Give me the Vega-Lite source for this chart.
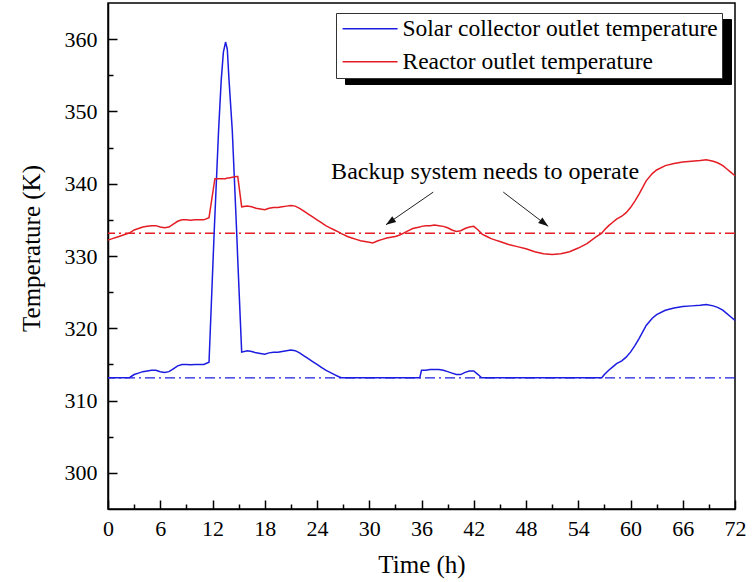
{
  "$schema": "https://vega.github.io/schema/vega-lite/v6.json",
  "width": 627,
  "height": 506,
  "autosize": {"type": "none"},
  "padding": {"left": 108, "top": 3, "right": 18, "bottom": 73},
  "background": "#ffffff",
  "config": {
    "view": {"stroke": "#000000", "strokeWidth": 1.5},
    "font": "Liberation Serif",
    "axis": {"grid": false, "domainColor": "#000000", "domainWidth": 1.5, "tickColor": "#000000", "tickWidth": 1.5, "labelFont": "Liberation Serif", "labelColor": "#000000", "labelFontSize": 22, "titleFont": "Liberation Serif", "titleFontSize": 25, "titleFontWeight": "normal", "titleColor": "#000000"}
  },
  "datasets": {
    "curves": [
      {"t": 0, "solar": 313.15, "reactor": 332.2},
      {"t": 0.5, "solar": 313.15, "reactor": 332.4},
      {"t": 1, "solar": 313.15, "reactor": 332.6},
      {"t": 1.5, "solar": 313.15, "reactor": 332.8},
      {"t": 2, "solar": 313.15, "reactor": 333.0},
      {"t": 2.5, "solar": 313.2, "reactor": 333.2},
      {"t": 3, "solar": 313.6, "reactor": 333.6},
      {"t": 3.5, "solar": 313.8, "reactor": 333.8},
      {"t": 4, "solar": 314.0, "reactor": 334.0},
      {"t": 4.5, "solar": 314.1, "reactor": 334.1},
      {"t": 5, "solar": 314.2, "reactor": 334.2},
      {"t": 5.5, "solar": 314.2, "reactor": 334.2},
      {"t": 6, "solar": 314.0, "reactor": 334.0},
      {"t": 6.5, "solar": 313.9, "reactor": 333.9},
      {"t": 7, "solar": 314.0, "reactor": 334.0},
      {"t": 7.5, "solar": 314.4, "reactor": 334.4},
      {"t": 8, "solar": 314.8, "reactor": 334.8},
      {"t": 8.5, "solar": 315.0, "reactor": 335.0},
      {"t": 9, "solar": 315.0, "reactor": 335.0},
      {"t": 9.5, "solar": 314.95, "reactor": 334.95},
      {"t": 10, "solar": 315.0, "reactor": 335.0},
      {"t": 10.5, "solar": 315.0, "reactor": 335.0},
      {"t": 11, "solar": 315.0, "reactor": 335.0},
      {"t": 11.6, "solar": 315.3, "reactor": 335.3},
      {"t": 12.2, "solar": 333.5, "reactor": 340.1},
      {"t": 12.28, "solar": 335.7, "reactor": 340.7},
      {"t": 12.7, "solar": 347.4, "reactor": 340.7},
      {"t": 13.0, "solar": 354.3, "reactor": 340.7},
      {"t": 13.25, "solar": 358.2, "reactor": 340.7},
      {"t": 13.5, "solar": 359.6, "reactor": 340.7},
      {"t": 13.7, "solar": 358.6, "reactor": 340.8},
      {"t": 13.9, "solar": 354.3, "reactor": 340.8},
      {"t": 14.27, "solar": 347.4, "reactor": 340.9},
      {"t": 14.77, "solar": 333.5, "reactor": 341.0},
      {"t": 14.9, "solar": 329.5, "reactor": 341.0},
      {"t": 15.35, "solar": 316.7, "reactor": 336.8},
      {"t": 16, "solar": 316.9, "reactor": 336.9},
      {"t": 16.5, "solar": 316.8, "reactor": 336.8},
      {"t": 17, "solar": 316.6, "reactor": 336.6},
      {"t": 17.5, "solar": 316.5, "reactor": 336.5},
      {"t": 18, "solar": 316.4, "reactor": 336.4},
      {"t": 18.5, "solar": 316.6, "reactor": 336.6},
      {"t": 19, "solar": 316.7, "reactor": 336.7},
      {"t": 19.5, "solar": 316.7, "reactor": 336.7},
      {"t": 20, "solar": 316.8, "reactor": 336.8},
      {"t": 20.5, "solar": 316.9, "reactor": 336.9},
      {"t": 21, "solar": 317.0, "reactor": 337.0},
      {"t": 21.5, "solar": 316.9, "reactor": 336.9},
      {"t": 22, "solar": 316.6, "reactor": 336.6},
      {"t": 22.5, "solar": 316.2, "reactor": 336.2},
      {"t": 23, "solar": 315.8, "reactor": 335.8},
      {"t": 23.5, "solar": 315.4, "reactor": 335.4},
      {"t": 24, "solar": 315.0, "reactor": 335.0},
      {"t": 24.5, "solar": 314.6, "reactor": 334.6},
      {"t": 25, "solar": 314.2, "reactor": 334.2},
      {"t": 25.5, "solar": 313.9, "reactor": 333.9},
      {"t": 26, "solar": 313.6, "reactor": 333.6},
      {"t": 26.5, "solar": 313.3, "reactor": 333.3},
      {"t": 26.8, "solar": 313.15, "reactor": 333.1},
      {"t": 27, "solar": 313.15, "reactor": 333.0},
      {"t": 27.5, "solar": 313.15, "reactor": 332.7},
      {"t": 28, "solar": 313.15, "reactor": 332.5},
      {"t": 28.5, "solar": 313.15, "reactor": 332.3},
      {"t": 29, "solar": 313.15, "reactor": 332.1},
      {"t": 29.5, "solar": 313.15, "reactor": 332.0},
      {"t": 30, "solar": 313.15, "reactor": 331.9},
      {"t": 30.4, "solar": 313.15, "reactor": 331.8},
      {"t": 31, "solar": 313.15, "reactor": 332.1},
      {"t": 31.5, "solar": 313.15, "reactor": 332.3},
      {"t": 32, "solar": 313.15, "reactor": 332.5},
      {"t": 32.5, "solar": 313.15, "reactor": 332.6},
      {"t": 33, "solar": 313.15, "reactor": 332.7},
      {"t": 33.5, "solar": 313.15, "reactor": 332.9},
      {"t": 34, "solar": 313.15, "reactor": 333.2},
      {"t": 34.5, "solar": 313.15, "reactor": 333.5},
      {"t": 35, "solar": 313.15, "reactor": 333.8},
      {"t": 35.8, "solar": 313.15, "reactor": 334.0},
      {"t": 36, "solar": 314.2, "reactor": 334.1},
      {"t": 36.5, "solar": 314.2, "reactor": 334.2},
      {"t": 37, "solar": 314.3, "reactor": 334.2},
      {"t": 37.5, "solar": 314.3, "reactor": 334.3},
      {"t": 38, "solar": 314.3, "reactor": 334.2},
      {"t": 38.5, "solar": 314.2, "reactor": 334.1},
      {"t": 39, "solar": 314.0, "reactor": 333.9},
      {"t": 39.5, "solar": 313.8, "reactor": 333.6},
      {"t": 40, "solar": 313.6, "reactor": 333.4},
      {"t": 40.5, "solar": 313.6, "reactor": 333.5},
      {"t": 41, "solar": 313.9, "reactor": 333.8},
      {"t": 41.5, "solar": 314.1, "reactor": 334.0},
      {"t": 42, "solar": 314.1, "reactor": 334.1},
      {"t": 42.5, "solar": 313.6, "reactor": 333.6},
      {"t": 42.9, "solar": 313.15, "reactor": 333.1},
      {"t": 43, "solar": 313.15, "reactor": 333.0},
      {"t": 43.5, "solar": 313.15, "reactor": 332.7},
      {"t": 44, "solar": 313.15, "reactor": 332.4},
      {"t": 44.5, "solar": 313.15, "reactor": 332.2},
      {"t": 45, "solar": 313.15, "reactor": 332.0},
      {"t": 46, "solar": 313.15, "reactor": 331.6},
      {"t": 47, "solar": 313.15, "reactor": 331.3},
      {"t": 48, "solar": 313.15, "reactor": 331.0},
      {"t": 49, "solar": 313.15, "reactor": 330.6},
      {"t": 50, "solar": 313.15, "reactor": 330.3},
      {"t": 51, "solar": 313.15, "reactor": 330.2},
      {"t": 52, "solar": 313.15, "reactor": 330.3},
      {"t": 53, "solar": 313.15, "reactor": 330.6},
      {"t": 54, "solar": 313.15, "reactor": 331.1},
      {"t": 55, "solar": 313.15, "reactor": 331.7},
      {"t": 56, "solar": 313.15, "reactor": 332.6},
      {"t": 56.7, "solar": 313.15, "reactor": 333.15},
      {"t": 57, "solar": 313.6, "reactor": 333.6},
      {"t": 57.5, "solar": 314.2, "reactor": 334.2},
      {"t": 58, "solar": 314.7, "reactor": 334.7},
      {"t": 58.4, "solar": 315.1, "reactor": 335.1},
      {"t": 59, "solar": 315.5, "reactor": 335.5},
      {"t": 59.5, "solar": 316.0, "reactor": 336.0},
      {"t": 60, "solar": 316.7, "reactor": 336.7},
      {"t": 60.5, "solar": 317.6, "reactor": 337.6},
      {"t": 61, "solar": 318.6, "reactor": 338.6},
      {"t": 61.8, "solar": 320.4, "reactor": 340.4},
      {"t": 62.5, "solar": 321.4, "reactor": 341.4},
      {"t": 63, "solar": 321.9, "reactor": 341.9},
      {"t": 64, "solar": 322.5, "reactor": 342.5},
      {"t": 65, "solar": 322.8, "reactor": 342.8},
      {"t": 66, "solar": 323.0, "reactor": 343.0},
      {"t": 67, "solar": 323.1, "reactor": 343.1},
      {"t": 68, "solar": 323.2, "reactor": 343.2},
      {"t": 68.7, "solar": 323.3, "reactor": 343.3},
      {"t": 69.5, "solar": 323.1, "reactor": 343.1},
      {"t": 70, "solar": 322.9, "reactor": 342.9},
      {"t": 70.6, "solar": 322.5, "reactor": 342.5},
      {"t": 71, "solar": 322.1, "reactor": 342.1},
      {"t": 71.5, "solar": 321.6, "reactor": 341.6},
      {"t": 72, "solar": 321.1, "reactor": 341.1}
    ]
  },
  "layer": [
    {
      "data": {"name": "curves"},
      "transform": [{"fold": ["solar", "reactor"], "as": ["series", "temp"]}],
      "mark": {"type": "line", "opacity": 0},
      "encoding": {
        "x": {"field": "t", "type": "quantitative", "scale": {"domain": [0, 72], "nice": false, "zero": false}, "axis": null},
        "y": {"field": "temp", "type": "quantitative", "scale": {"domain": [295, 365], "nice": false, "zero": false}, "axis": null},
        "color": {
          "field": "series", "type": "nominal",
          "scale": {"range": ["#000000", "#000000"]},
          "legend": {"title": null, "orient": "none", "legendX": 237, "legendY": 16, "symbolType": "M-1,0L39.6,0", "symbolSize": 336, "symbolStrokeWidth": 1.5, "labelFont": "Liberation Serif", "labelFontSize": 23.5, "labelColor": "#000000", "labelOffset": 39, "rowPadding": 8, "padding": 4, "strokeColor": "#000000", "fillColor": "#000000", "labelLimit": 500,
            "labelExpr": "''"}
        }
      }
    },
    {
      "data": {"values": [{}]},
      "mark": {"type": "rule", "color": "#e41d24", "strokeWidth": 1.3, "strokeDash": [10, 4, 2, 4]},
      "encoding": {
        "y": {"datum": 333.15, "type": "quantitative", "axis": {"orient": "left", "values": [305, 315, 325, 335, 345, 355], "tickSize": -5, "labels": false, "domain": false, "title": null}}
      }
    },
    {
      "data": {"values": [{}]},
      "mark": {"type": "rule", "color": "#1c1ce0", "strokeWidth": 1.3, "strokeDash": [10, 4, 2, 4]},
      "encoding": {
        "y": {"datum": 313.15, "type": "quantitative", "axis": null}
      }
    },
    {
      "data": {"name": "curves"},
      "transform": [{"fold": ["solar", "reactor"], "as": ["series", "temp"]}],
      "mark": {"type": "line", "strokeWidth": 1.5},
      "encoding": {
        "x": {"field": "t", "type": "quantitative", "scale": {"domain": [0, 72], "nice": false, "zero": false},
          "axis": {"orient": "bottom", "title": "Time (h)", "values": [0, 6, 12, 18, 24, 30, 36, 42, 48, 54, 60, 66, 72], "tickSize": -9, "labelPadding": 18, "titlePadding": 13, "labelFlush": false, "labelOverlap": false}},
        "y": {"field": "temp", "type": "quantitative", "scale": {"domain": [295, 365], "nice": false, "zero": false},
          "axis": {"orient": "left", "title": "Temperature (K)", "values": [300, 310, 320, 330, 340, 350, 360], "tickSize": -9, "labelPadding": 20, "titlePadding": 20, "titleY": 245, "labelFlush": false, "labelOverlap": false}},
        "stroke": {
          "field": "series", "type": "nominal",
          "scale": {"domain": ["solar", "reactor"], "range": ["#1c1ce0", "#e41d24"]},
          "legend": {"title": null, "orient": "none", "legendX": 228, "legendY": 10, "symbolType": "M-1,0L5,0", "symbolSize": 336, "symbolStrokeWidth": 1.5, "labelFont": "Liberation Serif", "labelFontSize": 23.5, "labelColor": "#000000", "labelOffset": 39, "rowPadding": 8, "padding": 4, "strokeColor": "#333333", "fillColor": "#ffffff", "labelLimit": 500,
            "labelExpr": "datum.value == 'solar' ? 'Solar collector outlet temperature' : 'Reactor outlet temperature'"}
        }
      }
    },
    {
      "data": {"values": [{}]},
      "mark": {"type": "rule", "color": "#222222", "strokeWidth": 1},
      "encoding": {
        "x": {"datum": 37.35, "type": "quantitative", "axis": {"orient": "bottom", "values": [3, 9, 15, 21, 27, 33, 39, 45, 51, 57, 63, 69], "tickSize": -5, "labels": false, "domain": false, "title": null}},
        "y": {"datum": 338.84, "type": "quantitative", "axis": null},
        "x2": {"datum": 31.92},
        "y2": {"datum": 334.33}
      }
    },
    {
      "data": {"values": [{}]},
      "mark": {"type": "rule", "color": "#222222", "strokeWidth": 1},
      "encoding": {
        "x": {"datum": 45.39, "type": "quantitative", "axis": null},
        "y": {"datum": 338.84, "type": "quantitative", "axis": null},
        "x2": {"datum": 50.55},
        "y2": {"datum": 334.1}
      }
    },
    {
      "data": {"values": [{}]},
      "mark": {"type": "point", "filled": true, "color": "#111111", "opacity": 1, "size": 400, "shape": "M0,0L-0.35,1L0.35,1Z", "angle": 235.4},
      "encoding": {
        "x": {"datum": 31.92, "type": "quantitative", "axis": null},
        "y": {"datum": 334.33, "type": "quantitative", "axis": null}
      }
    },
    {
      "data": {"values": [{}]},
      "mark": {"type": "point", "filled": true, "color": "#111111", "opacity": 1, "size": 400, "shape": "M0,0L-0.35,1L0.35,1Z", "angle": 127.4},
      "encoding": {
        "x": {"datum": 50.55, "type": "quantitative", "axis": null},
        "y": {"datum": 334.1, "type": "quantitative", "axis": null}
      }
    },
    {
      "data": {"values": [{}]},
      "mark": {"type": "text", "text": "Backup system needs to operate", "font": "Liberation Serif", "fontSize": 24, "color": "#000000", "align": "center", "baseline": "middle"},
      "encoding": {
        "x": {"datum": 43.3, "type": "quantitative", "axis": null},
        "y": {"datum": 341.6, "type": "quantitative", "axis": null}
      }
    }
  ],
  "resolve": {"axis": {"x": "independent", "y": "independent"}}
}
